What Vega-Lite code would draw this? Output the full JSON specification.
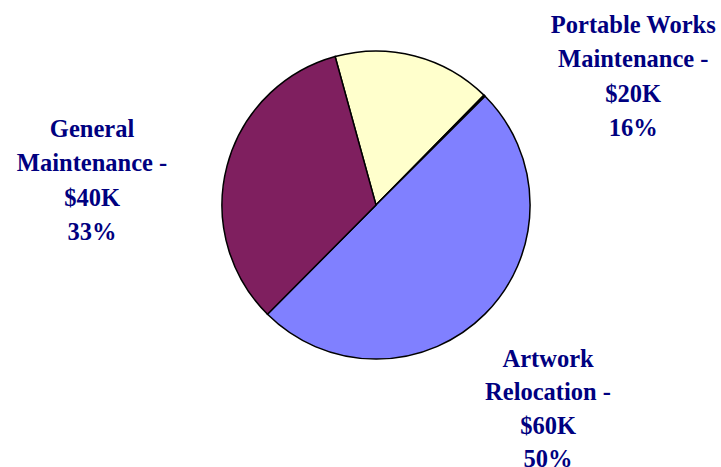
{
  "$schema": "https://vega.github.io/schema/vega-lite/v6.json",
  "width": 690,
  "height": 410,
  "autosize": {"type": "none"},
  "padding": {"left": 31, "top": 0, "right": 0, "bottom": 57},
  "background": "white",
  "config": {"view": {"stroke": null}},
  "data": {
    "values": [
      {"idx": 1, "cat": "Portable Works Maintenance", "amount": 20, "label": "Portable Works\nMaintenance -\n$20K\n16%"},
      {"idx": 2, "cat": "Other", "amount": 0.2, "label": ""},
      {"idx": 3, "cat": "Artwork Relocation", "amount": 60, "label": "Artwork\nRelocation -\n$60K\n50%"},
      {"idx": 4, "cat": "General Maintenance", "amount": 40, "label": "General\nMaintenance -\n$40K\n33%"}
    ]
  },
  "encoding": {
    "theta": {"field": "amount", "type": "quantitative", "stack": true, "scale": {"range": [-0.2688, 6.0144]}},
    "order": {"field": "idx", "type": "quantitative"}
  },
  "layer": [
    {
      "mark": {"type": "arc", "radius": 154, "stroke": "black", "strokeWidth": 1.5},
      "encoding": {
        "color": {
          "field": "cat",
          "type": "nominal",
          "scale": {
            "domain": ["Portable Works Maintenance", "Other", "Artwork Relocation", "General Maintenance"],
            "range": ["#FFFFCC", "#A0A070", "#8080FF", "#7F1F5F"]
          },
          "legend": null
        }
      }
    },
    {
      "mark": {"type": "text", "radius": 200, "dx": 207, "dy": 21.6, "align": "center", "baseline": "alphabetic", "lineBreak": "\n", "lineHeight": 34.3, "font": "Liberation Serif", "fontWeight": "bold", "fontSize": 24.5, "color": "#000080"},
      "encoding": {
        "text": {"condition": {"test": "datum.idx === 1", "field": "label"}, "value": ""}
      }
    },
    {
      "mark": {"type": "text", "radius": 200, "dx": 30.5, "dy": 20.4, "align": "center", "baseline": "alphabetic", "lineBreak": "\n", "lineHeight": 33.5, "font": "Liberation Serif", "fontWeight": "bold", "fontSize": 24.5, "color": "#000080"},
      "encoding": {
        "text": {"condition": {"test": "datum.idx === 3", "field": "label"}, "value": ""}
      }
    },
    {
      "mark": {"type": "text", "radius": 200, "dx": -90.5, "dy": -17.5, "align": "center", "baseline": "alphabetic", "lineBreak": "\n", "lineHeight": 34.5, "font": "Liberation Serif", "fontWeight": "bold", "fontSize": 24.5, "color": "#000080"},
      "encoding": {
        "text": {"condition": {"test": "datum.idx === 4", "field": "label"}, "value": ""}
      }
    }
  ]
}
